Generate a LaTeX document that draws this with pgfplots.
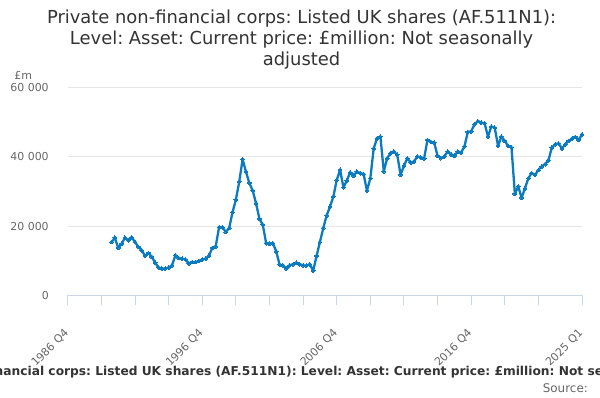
\documentclass[border=0pt]{standalone}
\usepackage{fontspec}
\setmainfont{DejaVu Sans}
\usepackage{pgfplots}
\pgfplotsset{compat=1.18}
\definecolor{linec}{HTML}{0B7BC1}
\definecolor{tcol}{HTML}{333333}
\definecolor{lcol}{HTML}{666666}
\definecolor{gridc}{HTML}{E6E6E6}
\definecolor{axc}{HTML}{CCD6EB}
\newlength{\prew}
\frenchspacing
\begin{document}
\frenchspacing
\settowidth{\prew}{\fontsize{12.3}{14}\selectfont\bfseries Private non-fin}
\begin{tikzpicture}[x=1pt,y=1pt]
\useasboundingbox (0,0) rectangle (600,400);
\begin{axis}[
  at={(65pt,103pt)}, anchor=south west, scale only axis,
  width=517pt, height=209pt,
  xmin=0, xmax=153, ymin=0, ymax=60000,
  scaled y ticks=false,
  axis x line*=bottom, axis y line*=left,
  x axis line style={draw=axc, line width=1pt, -},
  y axis line style={draw=none},
  ymajorgrids, grid style={gridc, line width=1pt},
  ytick={0,20000,40000,60000},
  yticklabels={0,20 000,40 000,60 000},
  ytick style={draw=none},
  xtick={0,40,80,120,153},
  xticklabels={1986 Q4,1996 Q4,2006 Q4,2016 Q4,2025 Q1},
  minor xtick={10,20,30,50,60,70,90,100,110,130,140},
  tick align=outside, major tick length=10pt, minor tick length=10pt,
  xtick style={draw=axc, line width=1pt},
  minor tick style={draw=axc, line width=1pt},
  tick label style={font=\fontsize{11}{13}\selectfont, text=lcol},
  xticklabel style={inner sep=0pt, xshift=-1pt, yshift=-26pt, rotate=45, anchor=east},
  yticklabel style={inner sep=0pt, anchor=east, xshift=-9pt},
  clip=false,
]
\addplot[linec, line width=2.3pt, line join=round, mark=*, mark size=1.9pt,
  mark options={fill=linec, draw=linec, line width=0pt}] coordinates {
(13,15400) (14,16650) (15,13700) (16,14900) (17,16650) (18,15900) (19,16750) (20,15400)
(21,14000) (22,13000) (23,11400) (24,12250) (25,11100) (26,9400) (27,8050) (28,7750)
(29,7750) (30,8050) (31,8700) (32,11550) (33,10800) (34,10600) (35,10400) (36,9200)
(37,9650) (38,9650) (39,9950) (40,10350) (41,10600) (42,11550) (43,13700) (44,14150)
(45,19700) (46,19700) (47,18300) (48,19450) (49,24000) (50,27650) (51,32800) (52,39300)
(53,35700) (54,32450) (55,30250) (56,26600) (57,22100) (58,20400) (59,15100) (60,14950)
(61,15100) (62,12700) (63,8900) (64,8700) (65,7750) (66,8700) (67,9000) (68,9450)
(69,9000) (70,8700) (71,8600) (72,9000) (73,7100) (74,11400) (75,15400) (76,19450)
(77,23050) (78,25650) (79,28500) (80,33300) (81,36250) (82,31200) (83,33100) (84,35500)
(85,34550) (86,35700) (87,35300) (88,35000) (89,30250) (90,33800) (91,42400) (92,45350)
(93,45850) (94,35800) (95,39550) (96,41050) (97,41550) (98,40570) (99,34830) (100,37400)
(101,39600) (102,38380) (103,38670) (104,40100) (105,39820) (106,39530) (107,44880) (108,44300)
(109,44120) (110,40280) (111,39620) (112,40100) (113,41540) (114,40770) (115,40280) (116,41540)
(117,41250) (118,42980) (119,47170) (120,47370) (121,49380) (122,50330) (123,49870) (124,49670)
(125,45850) (126,48720) (127,48430) (128,43150) (129,45850) (130,44590) (131,43150) (132,42690)
(133,29280) (134,31490) (135,28140) (136,30920) (137,33790) (138,35310) (139,34740) (140,36180)
(141,37240) (142,37900) (143,39050) (144,42690) (145,43640) (146,43840) (147,42400) (148,43640)
(149,44590) (150,45270) (151,45740) (152,44880) (153,46510)
};
\end{axis}
\node[text=tcol, font=\fontsize{18}{21}\selectfont] at (300,381.7) {Private non-financial corps: Listed UK shares (AF.511N1):};
\node[text=tcol, font=\fontsize{18}{21}\selectfont] at (300,360) {Level: Asset: Current price: £million: Not seasonally};
\node[text=tcol, font=\fontsize{18}{21}\selectfont] at (300,339.5) {adjusted};
\node[anchor=west, inner sep=0pt, text=lcol, font=\fontsize{11}{13}\selectfont] at (11,324) {£m};
\node[anchor=base west, inner sep=0pt, xshift=-\prew, text=tcol, font=\fontsize{12.3}{14}\selectfont\bfseries] at (0,23) {Private non-financial corps: Listed UK shares (AF.511N1): Level: Asset: Current price: £million: Not seasonally adjusted};
\node[anchor=base east, inner sep=0pt, text=lcol, font=\fontsize{12}{14}\selectfont] at (588,5) {Source:};
\end{tikzpicture}
\end{document}
